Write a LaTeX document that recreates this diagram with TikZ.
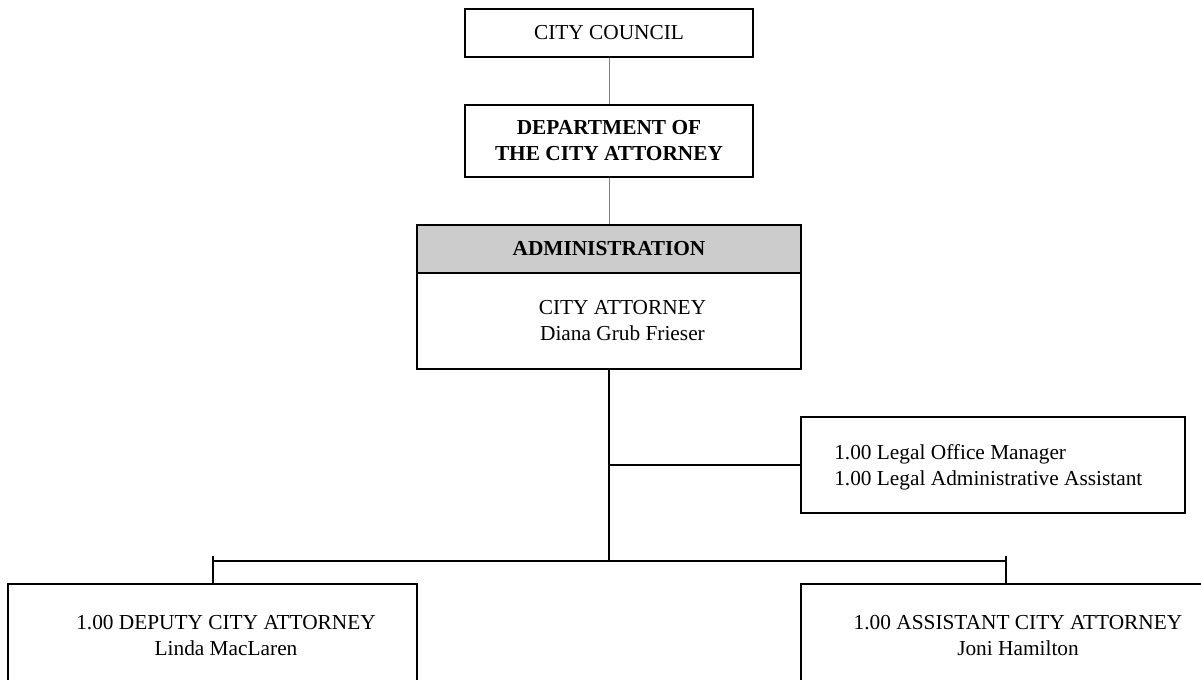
\documentclass[tikz,border=0pt]{standalone}
\usepackage{fontspec}
\setmainfont{Liberation Serif}
\tikzset{
  box/.style={draw, line width=1.5pt, inner sep=0pt},
  txt/.style={align=center, font=\fontsize{16}{19.5}\selectfont, inner sep=0pt},
  link/.style={line width=1.5pt},
  thinlink/.style={draw=gray, line width=0.75pt}
}
\begin{document}
\begin{tikzpicture}[x=0.75pt,y=-0.75pt]
        \clip (0,0) rectangle (1201,679);
        % top boxes
        \node[box, txt, minimum width=216pt, minimum height=36pt] (council) at (609,33) {CITY COUNCIL};
        \node[box, txt, minimum width=216pt, minimum height=54pt] (dept) at (609,141) {\bfseries DEPARTMENT OF\\\bfseries THE CITY ATTORNEY};
        \node[box, txt, fill=gray!40, minimum width=288pt, minimum height=36pt] (adminhead) at (609,249) {\bfseries ADMINISTRATION};
        \node[box, minimum width=288pt, minimum height=72pt] (adminbody) at (609,321) {};
        \node[txt] (admintxt) at (622.5,321) {CITY ATTORNEY\\Diana Grub Frieser};
        % staff box
        \node[box, minimum width=288pt, minimum height=72pt] (legal) at (993,465) {};
        \node[txt, align=left, anchor=west] (legaltxt) at (834,467.5) {1.00 Legal Office Manager\\1.00 Legal Administrative Assistant};
        % bottom boxes
        \node[box, minimum width=306.75pt, minimum height=75pt] (deputy) at (212.5,634) {};
        \node[txt] (deputytxt) at (226,635) {1.00 DEPUTY CITY ATTORNEY\\Linda MacLaren};
        \node[box, minimum width=306.75pt, minimum height=75pt] (assistant) at (1005.5,634) {};
        \node[txt] (assistanttxt) at (1018,635) {1.00 ASSISTANT CITY ATTORNEY\\Joni Hamilton};
        \coordinate (bar) at (609,561);

        \draw[thinlink] (council.south) -- (dept.north);
        \draw[thinlink] (dept.south) -- (adminhead.north);
        \draw[link] (adminbody.south) -- (bar);
        \draw[link] (adminbody.south |- legal.west) -- (legal.west);
        \draw[link] (deputy.north |- bar) -- (assistant.north |- bar);
        \draw[link] (deputy.north) -- ++(0,-27);
        \draw[link] (assistant.north) -- ++(0,-27);
    \end{tikzpicture}
\end{document}
